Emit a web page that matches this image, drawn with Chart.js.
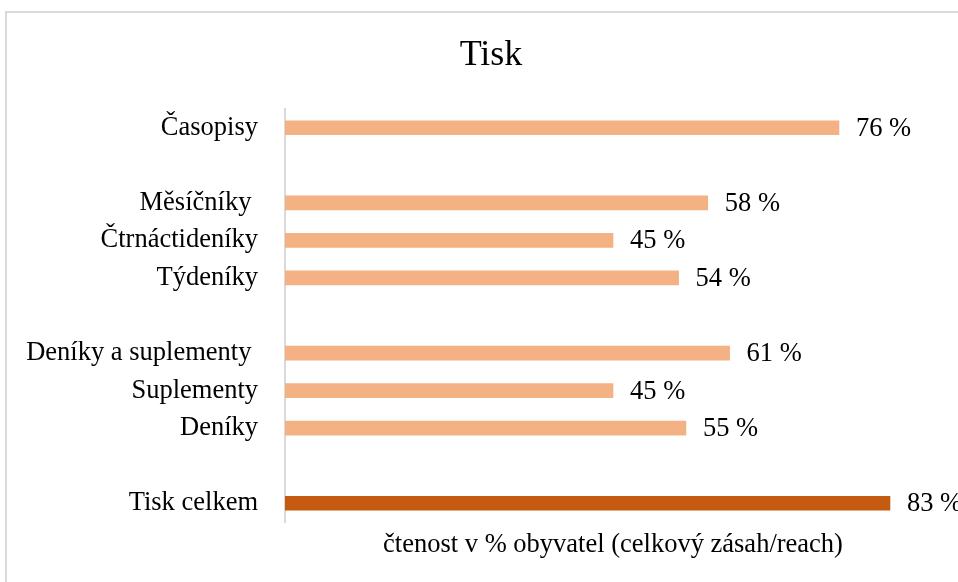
<!DOCTYPE html>
<html>
<head>
<meta charset="utf-8">
<script src="https://cdn.jsdelivr.net/npm/chart.js@4"></script>
<style>
  html, body { margin: 0; padding: 0; overflow: hidden; background: #fff; }
  #frame { position: absolute; left: 5px; top: 11px; width: 1100px; height: 700px; border: 2px solid #d9d9d9; }
  #wrap { position: absolute; left: 0; top: 0; width: 958px; height: 582px; }
</style>
</head>
<body>
<div id="frame"></div>
<div id="wrap"><canvas id="chart"></canvas></div>
<script>
'use strict';

// empty labels make the gaps between groups
const categories = ['Časopisy', '', 'Měsíčníky ', 'Čtrnáctideníky', 'Týdeníky', '', 'Deníky a suplementy ', 'Suplementy', 'Deníky', '', 'Tisk celkem'];
const reach = [76, null, 58, 45, 54, null, 61, 45, 55, null, 83];
const barColors = ['#f4b183', null, '#f4b183', '#f4b183', '#f4b183', null, '#f4b183', '#f4b183', '#f4b183', null, '#c55a11'];
const chartTitle = 'Tisk';

const serif = "'Liberation Serif', 'Times New Roman', serif";

// title sits a bit right of the canvas centre, so draw it by hand
const titleText = {
  id: 'titleText',
  afterDraw(chart) {
    const ctx = chart.ctx;
    ctx.save();
    ctx.font = '36px ' + serif;
    ctx.fillStyle = '#000';
    ctx.textAlign = 'center';
    ctx.textBaseline = 'middle';
    ctx.fillText(chartTitle, 491, 56);
    ctx.restore();
  }
};

const valueLabels = {
  id: 'valueLabels',
  afterDatasetsDraw(chart) {
    const ctx = chart.ctx;
    const meta = chart.getDatasetMeta(0);
    ctx.save();
    ctx.font = '26.5px ' + serif;
    ctx.fillStyle = '#000';
    ctx.textAlign = 'left';
    ctx.textBaseline = 'middle';
    meta.data.forEach((bar, i) => {
      if (reach[i] == null) return;
      ctx.fillText(reach[i] + ' %', bar.x + 17, bar.y + 1);
    });
    ctx.restore();
  }
};

new Chart(document.getElementById('chart'), {
  type: 'bar',
  data: {
    labels: categories,
    datasets: [{
      data: reach,
      backgroundColor: barColors,
      barThickness: 14,
    }]
  },
  options: {
    indexAxis: 'y',
    responsive: true,
    maintainAspectRatio: false,
    animation: false,
    layout: {
      padding: { top: 109, right: 17 }
    },
    plugins: {
      legend: { display: false },
      tooltip: { enabled: false },
      title: { display: false }
    },
    scales: {
      x: {
        min: 0,
        max: 90,
        grid: { display: false },
        border: { display: false },
        ticks: { display: false },
        title: {
          display: true,
          text: 'čtenost v % obyvatel (celkový zásah/reach)',
          color: '#000',
          font: { family: serif, size: 26.5 },
          padding: { top: 0, bottom: 21 }
        },
        afterFit(scale) { scale.height = 60; }
      },
      y: {
        grid: { display: false, drawTicks: false },
        border: { display: true, color: '#d9d9d9', width: 2 },
        ticks: {
          color: '#000',
          padding: 27,
          autoSkip: false,
          font: { family: serif, size: 26.5 }
        },
        afterFit(scale) { scale.width = 285; }
      }
    }
  },
  plugins: [valueLabels, titleText]
});
</script>
</body>
</html>
